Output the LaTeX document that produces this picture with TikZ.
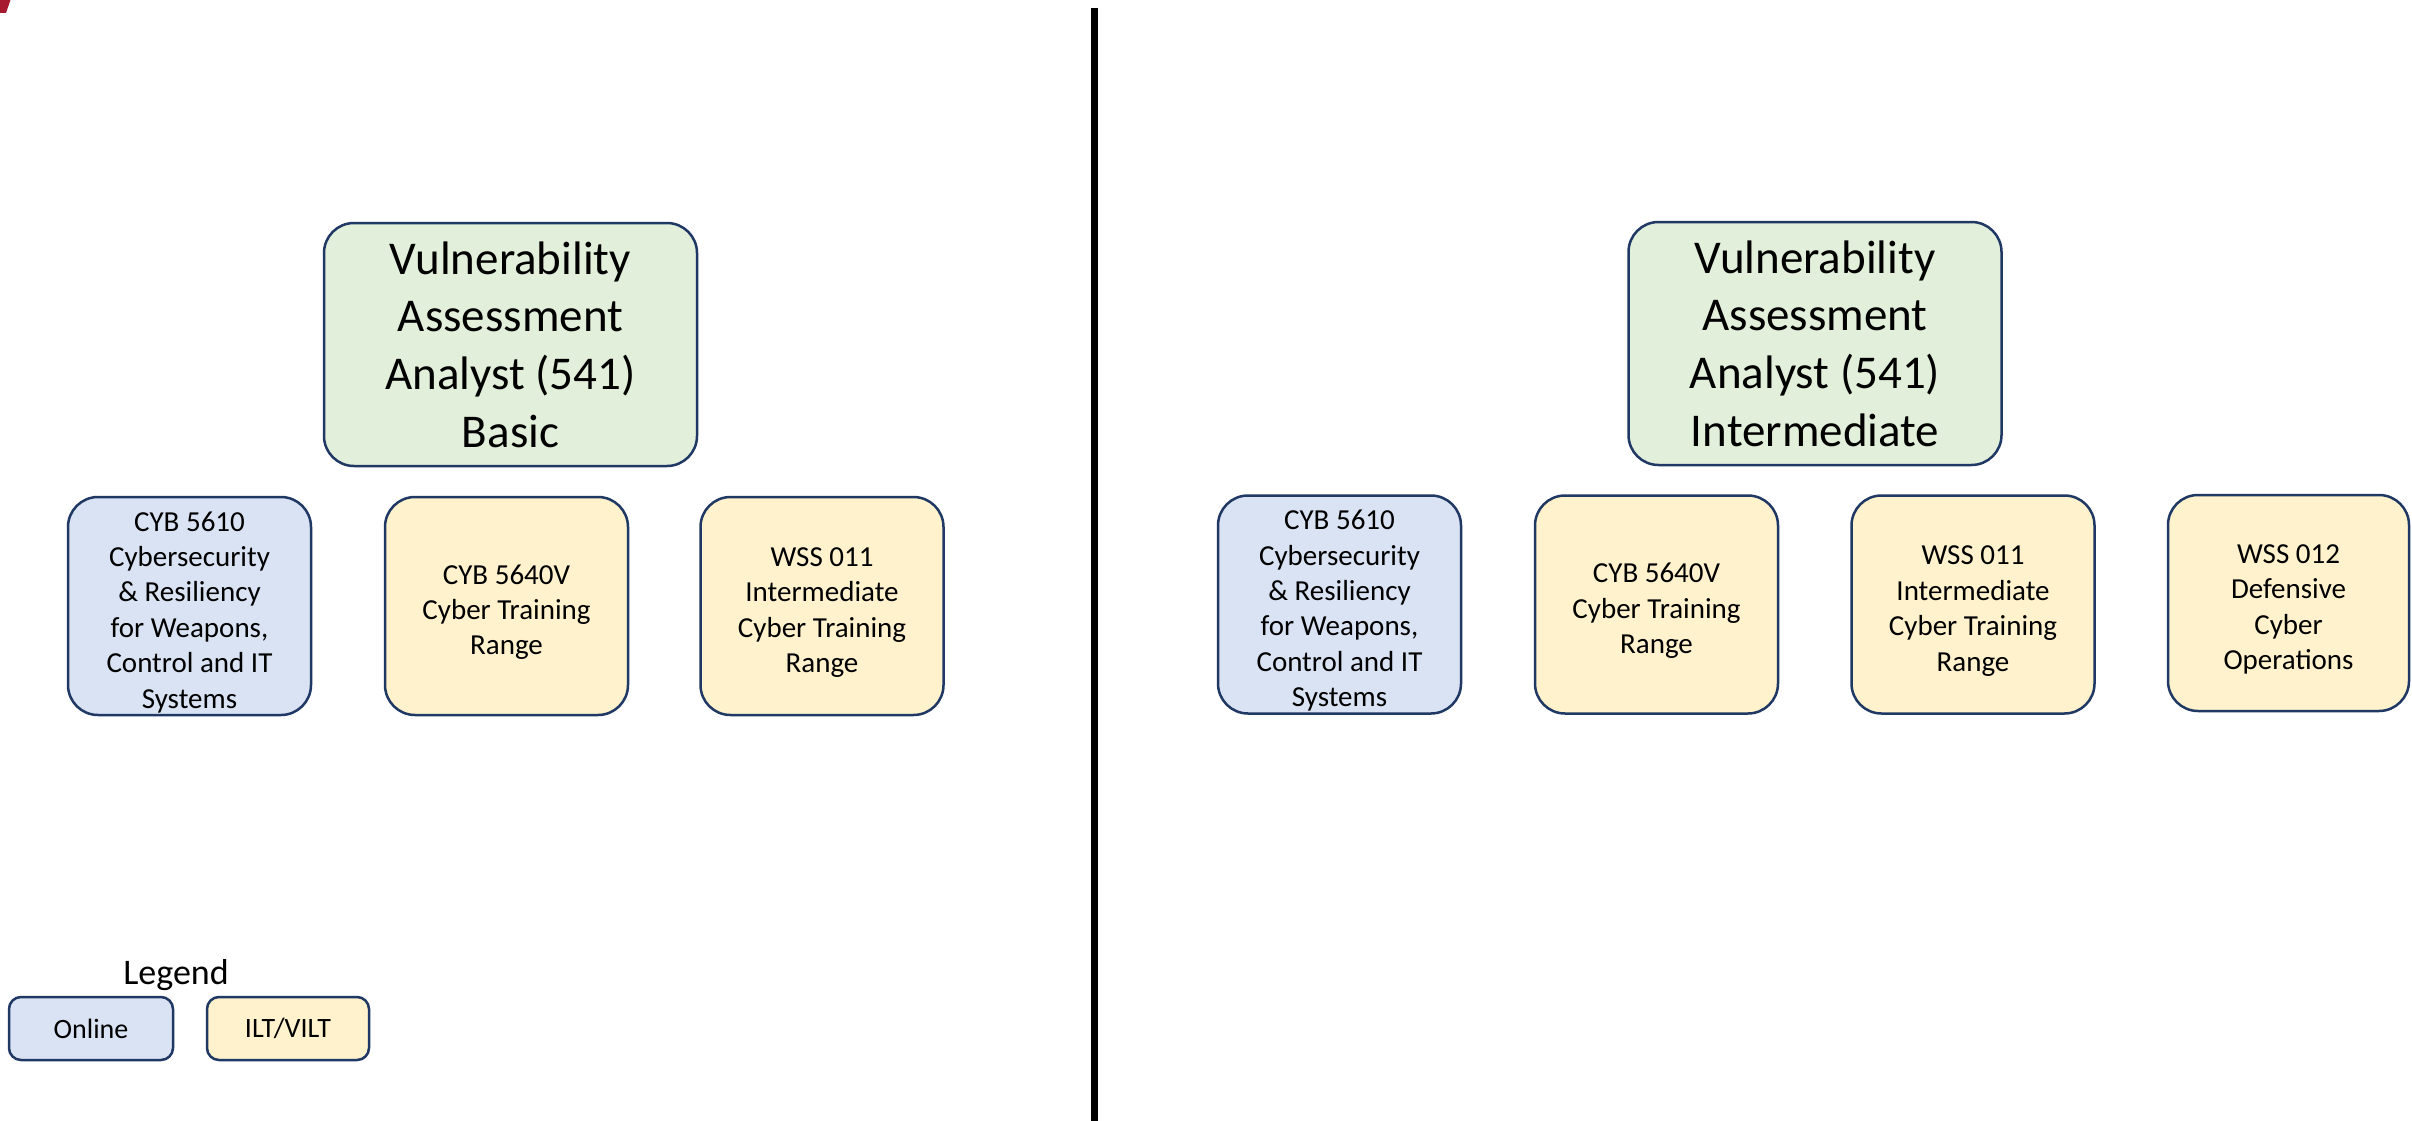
\documentclass[tikz,border=0pt]{standalone}
\usepackage{fontspec}
\setmainfont{Carlito}
\definecolor{bluefill}{HTML}{DAE3F3}
\definecolor{yelfill}{HTML}{FFF2CC}
\definecolor{grnfill}{HTML}{E2EFDA}
\definecolor{navy}{HTML}{1F3864}
\definecolor{markred}{HTML}{A6192E}
\newcommand{\topgap}{\rule{0pt}{32pt}}
\begin{document}
\begin{tikzpicture}[x=1pt,y=-1pt,
  boxbase/.style={draw=navy, line width=2.5pt, rounded corners=30pt, align=center, inner sep=0pt, text=black},
  rolebox/.style={boxbase, fill=grnfill, minimum width=373pt, minimum height=243pt, font=\fontsize{47}{57.7}\selectfont},
  coursebox/.style={boxbase, minimum width=243pt, minimum height=218pt, font=\fontsize{29}{35.4}\selectfont},
  onlinebox/.style={coursebox, fill=bluefill},
  iltbox/.style={coursebox, fill=yelfill},
  legbox/.style={draw=navy, line width=2.5pt, rounded corners=12pt, inner sep=0pt, minimum height=63pt, font=\fontsize{28}{34}\selectfont}
]
\useasboundingbox[fill=white] (0,0) rectangle (2412,1121);
\fill[markred] (0,0) -- (10.5,0) -- (6,13) -- (0,13) -- cycle;
\draw[line width=7pt] (1094.5,8) -- (1094.5,1121);

% left side
\node[rolebox] (roleL) at (510.5,344.5) {Vulnerability\\Assessment\\Analyst (541)\\Basic};
\node[onlinebox] (a1) at (189.5,606) {\topgap CYB 5610\\Cybersecurity\\\& Resiliency\\for Weapons,\\Control and IT\\Systems};
\node[iltbox] (a2) at (506.5,606) {\topgap CYB 5640V\\Cyber Training\\Range};
\node[iltbox] (a3) at (822,606) {\topgap WSS 011\\Intermediate\\Cyber Training\\Range};

% right side
\node[rolebox] (roleR) at (1815,343.5) {Vulnerability\\Assessment\\Analyst (541)\\Intermediate};
\node[onlinebox] (b1) at (1339.5,604.5) {\topgap CYB 5610\\Cybersecurity\\\& Resiliency\\for Weapons,\\Control and IT\\Systems};
\node[iltbox] (b2) at (1656.5,604.5) {\topgap CYB 5640V\\Cyber Training\\Range};
\node[iltbox] (b3) at (1973,604.5) {\topgap WSS 011\\Intermediate\\Cyber Training\\Range};
\node[iltbox, minimum width=241pt, minimum height=216pt] (b4) at (2288.5,603) {\topgap WSS 012\\Defensive\\Cyber\\Operations};

% legend
\node[font=\fontsize{36}{43}\selectfont] (legtitle) at (176,975) {Legend};
\node[legbox, fill=bluefill, minimum width=164pt] (legon) at (91,1028.5) {Online};
\node[legbox, fill=yelfill, minimum width=162pt] (legilt) at (288,1028.5) {ILT/VILT};
\end{tikzpicture}
\end{document}
